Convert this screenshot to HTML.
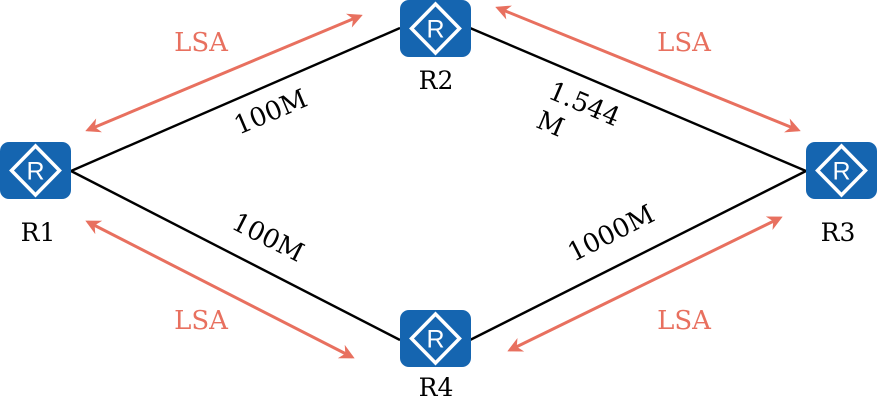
<!DOCTYPE html>
<html><head><meta charset="utf-8"><style>
html,body{margin:0;padding:0;background:#fff;width:879px;height:408px;overflow:hidden}
text{font-family:"DejaVu Serif","Liberation Serif",serif}
</style></head><body>
<svg width="879" height="408" viewBox="0 0 879 408">
<defs>
<marker id="ah" viewBox="0 0 10 10" refX="8" refY="5" markerWidth="5" markerHeight="5" orient="auto-start-reverse">
<path d="M0,0 L10,5 L0,10 L3,5 Z" fill="#e8705f"/></marker>
<g id="router">
<rect x="0" y="0" width="71" height="57" rx="9" fill="#1565b0"/>
<polygon points="35.5,4 59.5,28.5 35.5,53 11.5,28.5" fill="none" stroke="#fff" stroke-width="3.5"/>
<text x="35.5" y="37.5" text-anchor="middle" font-size="25" fill="#fff" style="font-family:'Liberation Sans',sans-serif">R</text>
</g>
</defs>
<g stroke="#000" stroke-width="2.4">
<line x1="71" y1="171" x2="400" y2="28"/>
<line x1="470" y1="28" x2="806" y2="171"/>
<line x1="71" y1="171" x2="400" y2="340"/>
<line x1="470" y1="340" x2="806" y2="171"/>
</g>
<g stroke="#e8705f" stroke-width="3" marker-start="url(#ah)" marker-end="url(#ah)">
<line x1="88" y1="130" x2="360" y2="16"/>
<line x1="498" y1="8" x2="798" y2="130"/>
<line x1="88" y1="222" x2="352" y2="357"/>
<line x1="510" y1="350" x2="780" y2="218"/>
</g>
<g fill="#e8705f" font-size="26" text-anchor="middle">
<text x="201" y="51">LSA</text>
<text x="684" y="51">LSA</text>
<text x="201" y="329">LSA</text>
<text x="684" y="329">LSA</text>
</g>
<g font-size="26" fill="#000" text-anchor="middle">
<text transform="translate(274,120) rotate(-23)">100M</text>
<text transform="translate(581,112) rotate(23)">1.544</text>
<text transform="translate(547,132) rotate(23)">M</text>
<text transform="translate(264,245) rotate(27)">100M</text>
<text transform="translate(615,241) rotate(-27)">1000M</text>
</g>
<use href="#router" x="0" y="142"/>
<use href="#router" x="400" y="0"/>
<use href="#router" x="806" y="142"/>
<use href="#router" x="400" y="310"/>
<g font-size="25" fill="#000" text-anchor="middle">
<text x="38" y="241">R1</text>
<text x="436" y="89">R2</text>
<text x="838" y="241">R3</text>
<text x="436" y="396">R4</text>
</g>
</svg>
</body></html>
